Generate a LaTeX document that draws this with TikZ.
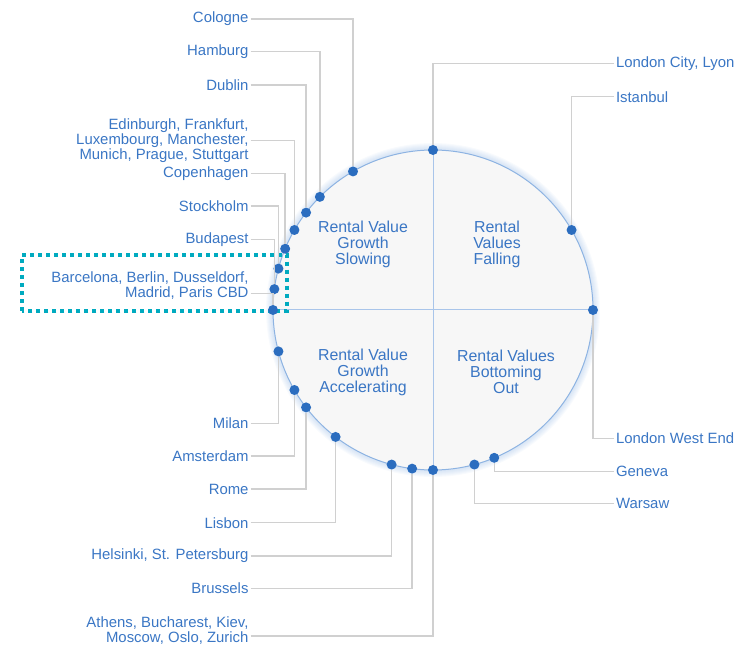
\documentclass[tikz,border=0pt]{standalone}
\usepackage{fontspec}
\setmainfont{Liberation Sans}
\usetikzlibrary{calc}
\definecolor{txtblue}{HTML}{3A76C4}
\definecolor{dotblue}{HTML}{2B6DBF}
\definecolor{rimblue}{HTML}{8DB3E2}
\definecolor{axisblue}{HTML}{A9C5EA}
\definecolor{leadgray}{HTML}{D0D0D0}
\definecolor{discfill}{HTML}{F7F7F7}
\definecolor{hilite}{HTML}{00AABF}

\begin{document}
\begin{tikzpicture}[x=1pt,y=1pt,
  citytext/.style={text=txtblue,font=\fontsize{14.9}{15}\selectfont,inner ysep=0pt,inner xsep=1.8pt},
  leftlab/.style={citytext,anchor=east,align=right},
  rightlab/.style={citytext,anchor=west,align=left},
  quad/.style={text=txtblue,font=\fontsize{15.9}{16}\selectfont,align=center,inner sep=0pt},
  lead/.style={leadgray,line width=1.4pt},
  pin/.style={circle,fill=dotblue,inner sep=0pt,minimum size=10pt}]
  \useasboundingbox (0,0) rectangle (739,646);
  \coordinate (c) at (433,336);

  % soft glow round the disc
  \foreach \w in {14,12,...,2}
    \draw[rimblue,opacity=0.06,line width=\w pt] (c) circle (160);
  \draw[fill=discfill,draw=rimblue,line width=1pt] (c) circle (160);
  \draw[axisblue,line width=1pt] ($(c)+(-160,0)$) -- ($(c)+(160,0)$);
  \draw[axisblue,line width=1pt] ($(c)+(0,160)$) -- ($(c)+(0,-160)$);

  \node[quad] (q-slow) at (363,402) {Rental Value\\Growth\\Slowing};
  \node[quad] (q-fall) at (497,402) {Rental\\Values\\Falling};
  \node[quad] (q-acc)  at (363,274) {Rental Value\\Growth\\Accelerating};
  \node[quad] (q-bot)  at (506,274) {Rental Values\\Bottoming\\Out};

  % highlighted group
  \draw[hilite,line width=4pt,dash pattern=on 4pt off 4pt] (21.7,335.3) rectangle (287.3,391);

  \foreach \nm/\ang in {cologne/120,hamburg/135,dublin/142.5,edinburgh/150,
      copenhagen/157.5,stockholm/165,budapest/172.5,barcelona/180,milan/195,
      amsterdam/210,rome/217.5,lisbon/232.5,helsinki/255,brussels/262.5,
      athens/270,warsaw/285,geneva/292.5,westend/0,istanbul/30,city/90}
    \node[pin] (d-\nm) at ($(c)+(\ang:160)$) {};

  \node[leftlab] (l-cologne)    at (250.5,627)   {Cologne};
  \node[leftlab] (l-hamburg)    at (250.5,594.3) {Hamburg};
  \node[leftlab] (l-dublin)     at (250.5,561)   {Dublin};
  \node[leftlab] (l-edinburgh)  at (250.5,505.3) {Edinburgh, Frankfurt,\\Luxembourg, Manchester,\\Munich, Prague, Stuttgart};
  \node[leftlab] (l-copenhagen) at (250.5,472.7) {Copenhagen};
  \node[leftlab] (l-stockholm)  at (250.5,440)   {Stockholm};
  \node[leftlab] (l-budapest)   at (250.5,406.7) {Budapest};
  \node[leftlab] (l-barcelona)  at (250.5,360)   {Barcelona, Berlin, Dusseldorf,\\Madrid, Paris CBD};
  \node[leftlab] (l-milan)      at (250.5,222.7) {Milan};
  \node[leftlab] (l-amsterdam)  at (250.5,190)   {Amsterdam};
  \node[leftlab] (l-rome)       at (250.5,157)   {Rome};
  \node[leftlab] (l-lisbon)     at (250.5,123.3) {Lisbon};
  \node[leftlab] (l-helsinki)   at (250.5,90)    {Helsinki, St. Petersburg};
  \node[leftlab] (l-brussels)   at (250.5,57.7)  {Brussels};
  \node[leftlab] (l-athens)     at (250.5,15)    {Athens, Bucharest, Kiev,\\Moscow, Oslo, Zurich};

  \node[rightlab] (l-city)     at (614,582.7) {London City, Lyon};
  \node[rightlab] (l-istanbul) at (614,549.3) {Istanbul};
  \node[rightlab] (l-westend)  at (614,207.7) {London West End};
  \node[rightlab] (l-geneva)   at (614,174.3) {Geneva};
  \node[rightlab] (l-warsaw)   at (614,142.7) {Warsaw};

  \foreach \nm in {cologne,hamburg,dublin,edinburgh,copenhagen,stockholm,budapest,
      milan,amsterdam,rome,lisbon,helsinki,brussels,city,istanbul,westend,geneva,warsaw}
    \draw[lead] (l-\nm) -| (d-\nm);
  \draw[lead] ([yshift=-7.3pt]l-barcelona.east) -| (d-barcelona);
  \draw[lead] ([yshift=-5pt]l-athens.east) -| (d-athens);
\end{tikzpicture}
\end{document}
